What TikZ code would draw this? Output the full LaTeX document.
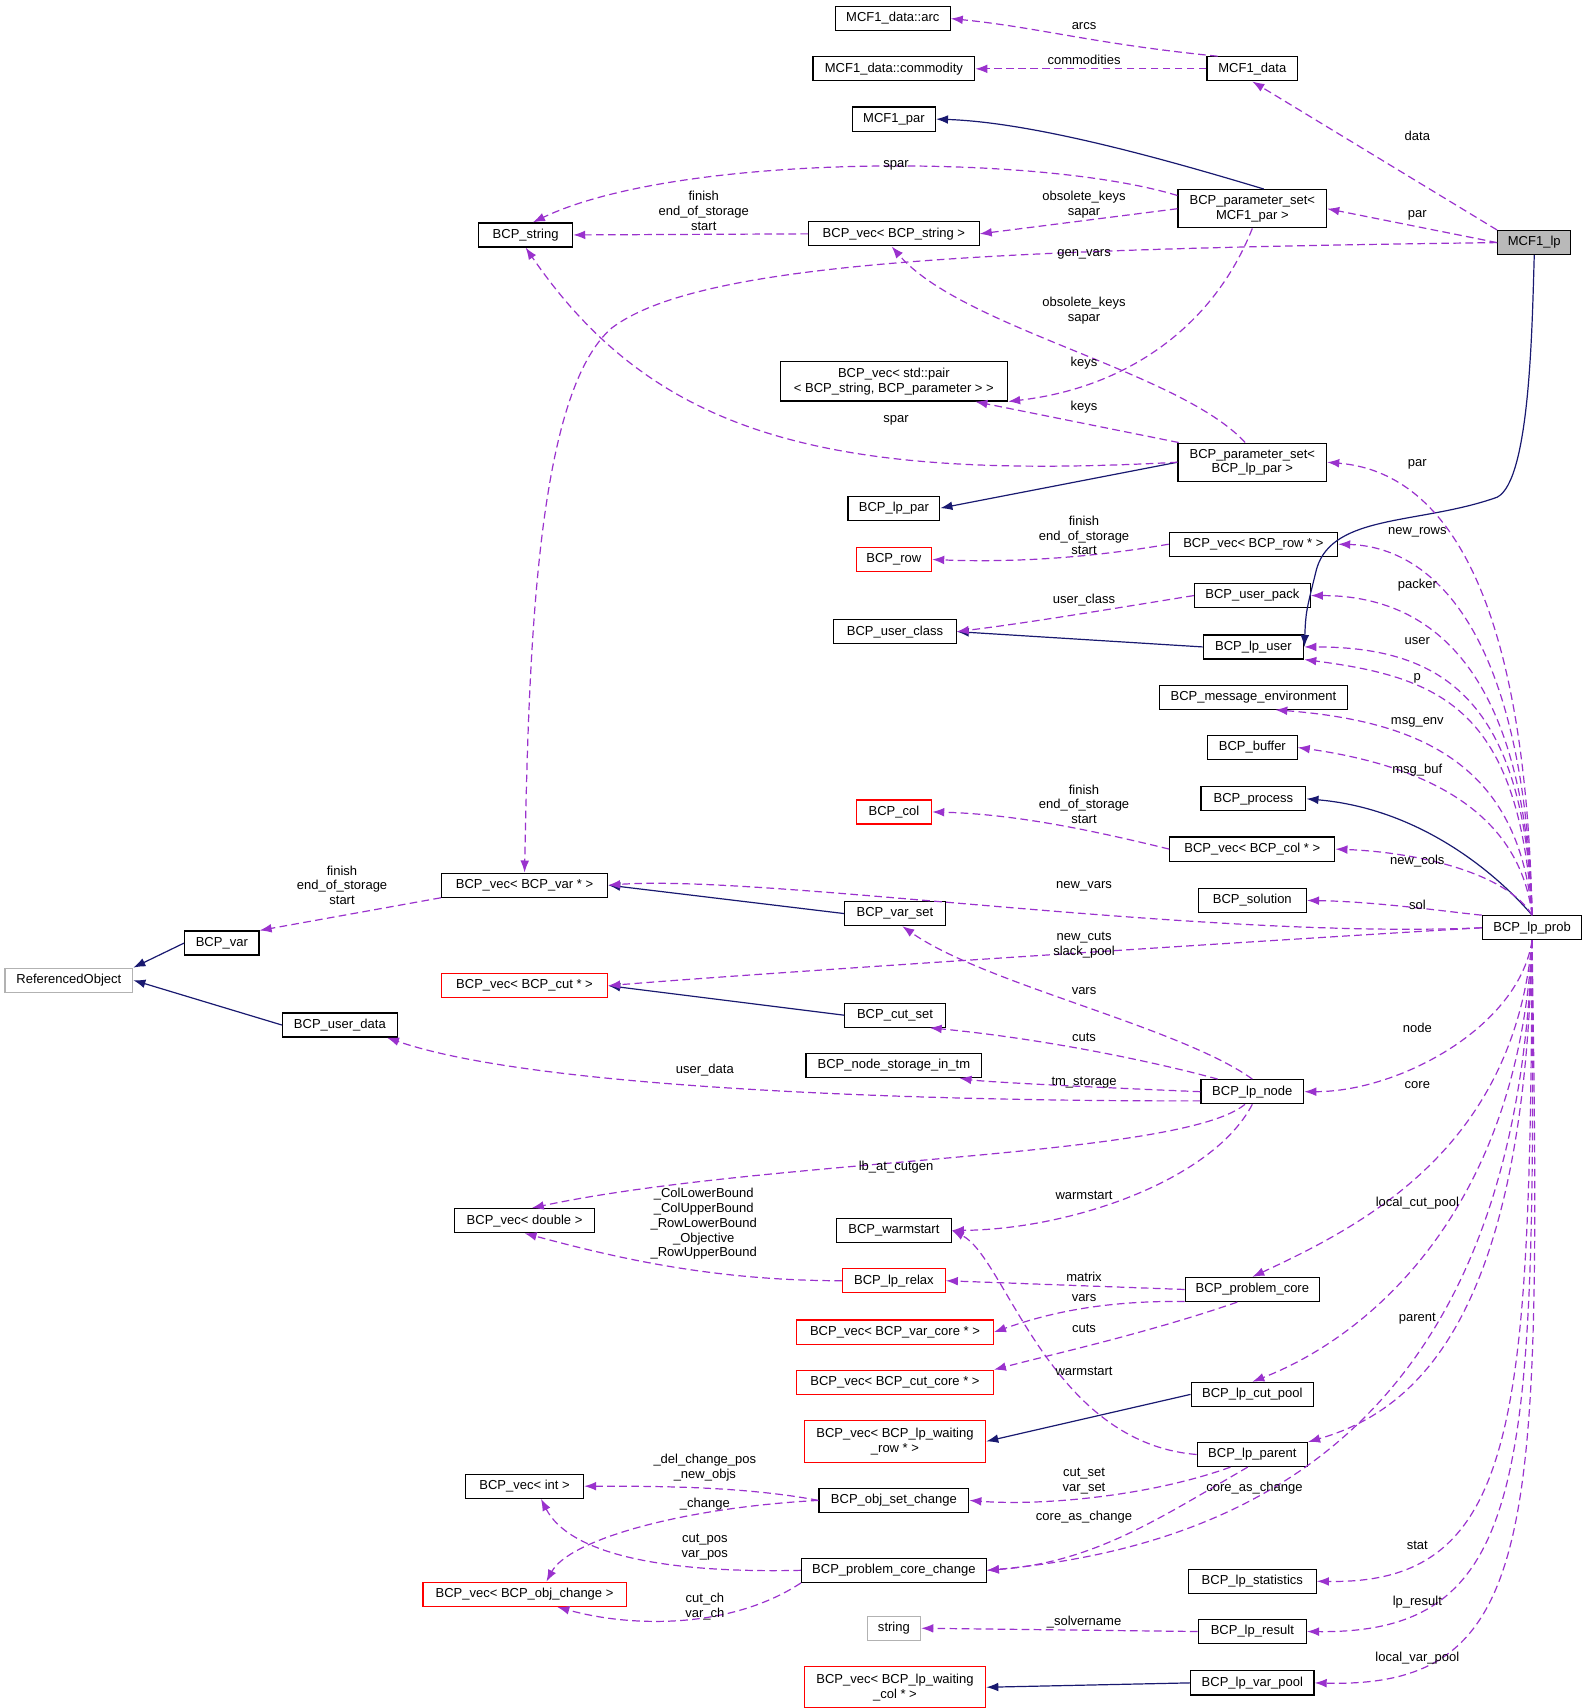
\documentclass[tikz,border=0pt]{standalone}
\usepackage{fontspec}
\setmainfont{Liberation Sans}
\usetikzlibrary{arrows.meta,calc}
\begin{document}
\begin{tikzpicture}[x=1pt,y=-1pt,
  every node/.style={font=\fontsize{11.9}{13.5}\selectfont, inner sep=0pt},
  box/.style={draw=black, line width=1.1pt, minimum height=22pt, align=center, fill=white},
  rbox/.style={box, draw=red},
  gbox/.style={box, draw=gray!60},
  dep/.style={draw={rgb,255:red,154;green,50;blue,205}, dashed, dash pattern=on 7pt off 4pt, line width=1.1pt, -{Latex[length=11pt,width=8pt]}},
  inh/.style={draw={rgb,255:red,25;green,25;blue,112}, line width=1.1pt, -{Latex[length=11pt,width=8pt]}},
  lab/.style={align=center}]
\useasboundingbox (0,0) rectangle (1450,1563);
% nodes
\node[box,minimum width=105] (arc) at (817,17) {MCF1\_data::arc};
\node[box,minimum width=148] (comm) at (818,63) {MCF1\_data::commodity};
\node[box,minimum width=83] (mdata) at (1146,63) {MCF1\_data};
\node[box,minimum width=76] (mpar) at (818,109) {MCF1\_par};
\node[box,minimum width=136,minimum height=35] (psm) at (1146,191) {BCP\_parameter\_set\textless\\MCF1\_par \textgreater};
\node[box,minimum width=67,fill=gray!55] (mlp) at (1404,222) {MCF1\_lp};
\node[box,minimum width=86] (bstr) at (481,215) {BCP\_string};
\node[box,minimum width=156] (vstr) at (818,214) {BCP\_vec\textless{} BCP\_string \textgreater};
\node[box,minimum width=208,minimum height=36] (vpair) at (818,349) {BCP\_vec\textless{} std::pair\\\textless{} BCP\_string, BCP\_parameter \textgreater{} \textgreater};
\node[box,minimum width=136,minimum height=35] (psl) at (1146,423) {BCP\_parameter\_set\textless\\BCP\_lp\_par \textgreater};
\node[box,minimum width=84] (lppar) at (818,465) {BCP\_lp\_par};
\node[box,minimum width=154] (vrow) at (1147,498) {BCP\_vec\textless{} BCP\_row * \textgreater};
\node[rbox,minimum width=69] (row) at (818,512) {BCP\_row};
\node[box,minimum width=106] (upack) at (1146,545) {BCP\_user\_pack};
\node[box,minimum width=112] (uclass) at (819,578) {BCP\_user\_class};
\node[box,minimum width=92] (lpuser) at (1147,592) {BCP\_lp\_user};
\node[box,minimum width=172] (msgenv) at (1147,638) {BCP\_message\_environment};
\node[box,minimum width=82] (buf) at (1146,684) {BCP\_buffer};
\node[box,minimum width=96] (proc) at (1147,731) {BCP\_process};
\node[rbox,minimum width=69] (col) at (818,743) {BCP\_col};
\node[box,minimum width=151] (vcol) at (1146,777) {BCP\_vec\textless{} BCP\_col * \textgreater};
\node[box,minimum width=152] (vvar) at (480,810) {BCP\_vec\textless{} BCP\_var * \textgreater};
\node[box,minimum width=92] (varset) at (819,836) {BCP\_var\_set};
\node[box,minimum width=99] (sol) at (1146,824) {BCP\_solution};
\node[box,minimum width=91] (prob) at (1402,849) {BCP\_lp\_prob};
\node[box,minimum width=68] (var) at (203,863) {BCP\_var};
\node[gbox,minimum width=117] (refobj) at (63,897) {ReferencedObject};
\node[rbox,minimum width=152] (vcut) at (480,902) {BCP\_vec\textless{} BCP\_cut * \textgreater};
\node[box,minimum width=92] (cutset) at (819,929) {BCP\_cut\_set};
\node[box,minimum width=105] (udata) at (311,938) {BCP\_user\_data};
\node[box,minimum width=161] (nstore) at (818,975) {BCP\_node\_storage\_in\_tm};
\node[box,minimum width=94] (lpnode) at (1146,999) {BCP\_lp\_node};
\node[box,minimum width=128] (vdbl) at (480,1117) {BCP\_vec\textless{} double \textgreater};
\node[box,minimum width=105] (warm) at (818,1126) {BCP\_warmstart};
\node[rbox,minimum width=94] (relax) at (818,1172) {BCP\_lp\_relax};
\node[box,minimum width=123] (pcore) at (1146,1180) {BCP\_problem\_core};
\node[rbox,minimum width=180] (vcore) at (819,1219) {BCP\_vec\textless{} BCP\_var\_core * \textgreater};
\node[rbox,minimum width=180] (ccore) at (819,1265) {BCP\_vec\textless{} BCP\_cut\_core * \textgreater};
\node[box,minimum width=112] (cutpool) at (1146,1276) {BCP\_lp\_cut\_pool};
\node[rbox,minimum width=166,minimum height=38] (wrow) at (819,1319) {BCP\_vec\textless{} BCP\_lp\_waiting\\\_row * \textgreater};
\node[box,minimum width=101] (parent) at (1146,1331) {BCP\_lp\_parent};
\node[box,minimum width=108] (vint) at (480,1360) {BCP\_vec\textless{} int \textgreater};
\node[box,minimum width=137] (osc) at (818,1373) {BCP\_obj\_set\_change};
\node[box,minimum width=169] (pcc) at (818,1437) {BCP\_problem\_core\_change};
\node[rbox,minimum width=186] (vobj) at (480,1459) {BCP\_vec\textless{} BCP\_obj\_change \textgreater};
\node[box,minimum width=117] (stat) at (1146,1447) {BCP\_lp\_statistics};
\node[gbox,minimum width=49] (str) at (818,1490) {string};
\node[box,minimum width=99] (result) at (1146,1493) {BCP\_lp\_result};
\node[rbox,minimum width=166,minimum height=38] (wcol) at (819,1544) {BCP\_vec\textless{} BCP\_lp\_waiting\\\_col * \textgreater};
\node[box,minimum width=113] (varpool) at (1146,1540) {BCP\_lp\_var\_pool};
% inheritance
\draw[inh] (psm.60) .. controls (1080,150) and (950,112) .. (mpar.east);
\draw[inh] (mlp.south) .. controls (1402,300) and (1400,440) .. (1370,455) .. controls (1300,480) and (1220,470) .. (1205,520) .. controls (1195,560) .. (lpuser.east);
\draw[inh] (psl.west) -- (lppar.east);
\draw[inh] (lpuser.west) -- (uclass.east);
\draw[inh] (prob.north) .. controls (1370,800) and (1300,740) .. (proc.east);
\draw[inh] (varset.west) -- (vvar.east);
\draw[inh] (cutset.west) -- (vcut.east);
\draw[inh] (var.west) -- (refobj.north east);
\draw[inh] (udata.west) -- (refobj.east);
\draw[inh] (cutpool.west) -- (wrow.east);
\draw[inh] (varpool.west) -- (wcol.east);
% dependencies
\draw[dep] (mdata.160) .. controls (1000,40) and (950,25) .. (arc.east);
\draw[dep] (mdata.west) -- (comm.east);
\draw[dep] (mlp.north west) -- (mdata.south);
\draw[dep] (mlp.west) -- (psm.east);
\draw[dep] (mlp.west) .. controls (900,228) and (640,240) .. (560,300) .. controls (490,360) and (484,600) .. (vvar.north);
\draw[dep] (psm.170) .. controls (950,140) and (620,140) .. (bstr.60);
\draw[dep] (psm.west) -- (vstr.east);
\draw[dep] (psm.south) .. controls (1110,300) and (1030,355) .. (vpair.-10);
\draw[dep] (vstr.west) -- (bstr.east);
\draw[dep] (psl.110) .. controls (1080,340) and (880,300) .. (vstr.-100);
\draw[dep] (psl.165) -- ($(vpair.south east)+(-30,0)$);
\draw[dep] (psl.west) .. controls (760,440) and (600,400) .. (bstr.south);
\draw[dep] (vrow.west) .. controls (1000,510) and (930,515) .. (row.east);
\draw[dep] (upack.west) .. controls (1000,560) and (940,570) .. (uclass.east);
\draw[dep] (vcol.west) .. controls (1000,760) and (930,745) .. (col.east);
\draw[dep] (vvar.south west) -- (var.north east);
\draw[dep] (lpnode.north) .. controls (1080,940) and (900,900) .. (varset.-60);
\draw[dep] (lpnode.160) .. controls (1050,970) and (950,950) .. (cutset.-20);
\draw[dep] (lpnode.190) .. controls (900,1008) and (500,1000) .. (udata.-15);
\draw[dep] (lpnode.west) .. controls (1000,995) and (900,990) .. ($(nstore.south)+(60,0)$);
\draw[dep] (lpnode.-120) .. controls (1080,1060) and (700,1060) .. (vdbl.60);
\draw[dep] (lpnode.south) .. controls (1110,1080) and (980,1125) .. (warm.east);
\draw[dep] (relax.west) .. controls (650,1172) and (560,1150) .. (vdbl.south);
\draw[dep] (pcore.west) -- (relax.east);
\draw[dep] (pcore.190) .. controls (1000,1190) and (950,1205) .. (vcore.east);
\draw[dep] (pcore.-140) .. controls (1050,1220) and (960,1240) .. (ccore.north east);
\draw[dep] (parent.west) .. controls (960,1320) and (920,1150) .. (warm.east);
\draw[dep] (parent.-150) .. controls (1050,1370) and (950,1378) .. (osc.east);
\draw[dep] (parent.-110) .. controls (1060,1390) and (1000,1430) .. (pcc.east);
\draw[dep] (osc.west) .. controls (680,1360) and (600,1360) .. (vint.east);
\draw[dep] (osc.west) .. controls (620,1380) and (520,1410) .. ($(vobj.north)+(20,0)$);
\draw[dep] (pcc.west) .. controls (600,1440) and (520,1420) .. ($(vint.south)+(15,0)$);
\draw[dep] (pcc.south west) .. controls (670,1490) and (580,1490) .. ($(vobj.south)+(30,0)$);
\draw[dep] (result.west) -- (str.east);
\draw[dep] (prob.north) .. controls (1395,500) and (1300,430) .. (psl.east);
\draw[dep] (prob.north) .. controls (1395,560) and (1300,500) .. (vrow.east);
\draw[dep] (prob.north) .. controls (1395,600) and (1300,545) .. (upack.east);
\draw[dep] (prob.north) .. controls (1395,640) and (1320,592) .. (lpuser.east);
\draw[dep] (prob.north) .. controls (1390,650) and (1320,620) .. (lpuser.south east);
\draw[dep] (prob.north) .. controls (1390,700) and (1300,660) .. (msgenv.-30);
\draw[dep] (prob.north) .. controls (1390,740) and (1300,700) .. (buf.east);
\draw[dep] (prob.north) .. controls (1380,800) and (1300,780) .. (vcol.east);
\draw[dep] (prob.north west) .. controls (1330,835) and (1260,825) .. (sol.east);
\draw[dep] (prob.west) .. controls (1100,860) and (700,800) .. (vvar.east);
\draw[dep] (prob.west) .. controls (1200,858) and (700,890) .. (vcut.east);
\draw[dep] (prob.south) .. controls (1390,940) and (1280,999) .. (lpnode.east);
\draw[dep] (prob.south) .. controls (1385,1050) and (1250,1120) .. (pcore.north);
\draw[dep] (prob.south) .. controls (1390,1100) and (1260,1220) .. (cutpool.north);
\draw[dep] (prob.south) .. controls (1395,1200) and (1300,1290) .. (parent.north east);
\draw[dep] (prob.south) .. controls (1390,1250) and (1200,1410) .. (pcc.east);
\draw[dep] (prob.south) .. controls (1400,1300) and (1390,1450) .. (stat.east);
\draw[dep] (prob.south) .. controls (1405,1350) and (1400,1495) .. (result.east);
\draw[dep] (prob.south) .. controls (1410,1400) and (1410,1545) .. (varpool.east);
% labels
\node[lab] at (992,24) {arcs};
\node[lab] at (992,55) {commodities};
\node[lab] at (1297,124) {data};
\node[lab] at (1297,197) {par};
\node[lab] at (992,233) {gen\_vars};
\node[lab] at (820,151) {spar};
\node[lab] at (992,187) {obsolete\_keys\\sapar};
\node[lab] at (992,332) {keys};
\node[lab] at (644,193) {finish\\end\_of\_storage\\start};
\node[lab] at (992,284) {obsolete\_keys\\sapar};
\node[lab] at (992,373) {keys};
\node[lab] at (820,385) {spar};
\node[lab] at (992,490) {finish\\end\_of\_storage\\start};
\node[lab] at (992,549) {user\_class};
\node[lab] at (992,736) {finish\\end\_of\_storage\\start};
\node[lab] at (313,810) {finish\\end\_of\_storage\\start};
\node[lab] at (992,907) {vars};
\node[lab] at (992,949) {cuts};
\node[lab] at (645,979) {user\_data};
\node[lab] at (992,991) {tm\_storage};
\node[lab] at (820,1068) {lb\_at\_cutgen};
\node[lab] at (992,1094) {warmstart};
\node[lab] at (644,1120) {\_ColLowerBound\\\_ColUpperBound\\\_RowLowerBound\\\_Objective\\\_RowUpperBound};
\node[lab] at (992,1168) {matrix};
\node[lab] at (992,1188) {vars};
\node[lab] at (992,1216) {cuts};
\node[lab] at (992,1255) {warmstart};
\node[lab] at (992,1355) {cut\_set\\var\_set};
\node[lab] at (992,1388) {core\_as\_change};
\node[lab] at (645,1343) {\_del\_change\_pos\\\_new\_objs};
\node[lab] at (645,1376) {\_change};
\node[lab] at (645,1416) {cut\_pos\\var\_pos};
\node[lab] at (645,1470) {cut\_ch\\var\_ch};
\node[lab] at (992,1484) {\_solvername};
\node[lab] at (1297,425) {par};
\node[lab] at (1297,487) {new\_rows};
\node[lab] at (1297,535) {packer};
\node[lab] at (1297,587) {user};
\node[lab] at (1297,621) {p};
\node[lab] at (1297,661) {msg\_env};
\node[lab] at (1297,705) {msg\_buf};
\node[lab] at (1297,788) {new\_cols};
\node[lab] at (1297,828) {sol};
\node[lab] at (992,811) {new\_vars};
\node[lab] at (992,865) {new\_cuts\\slack\_pool};
\node[lab] at (1297,941) {node};
\node[lab] at (1297,993) {core};
\node[lab] at (1297,1101) {local\_cut\_pool};
\node[lab] at (1297,1207) {parent};
\node[lab] at (1148,1362) {core\_as\_change};
\node[lab] at (1297,1414) {stat};
\node[lab] at (1297,1466) {lp\_result};
\node[lab] at (1297,1517) {local\_var\_pool};
\end{tikzpicture}
\end{document}
